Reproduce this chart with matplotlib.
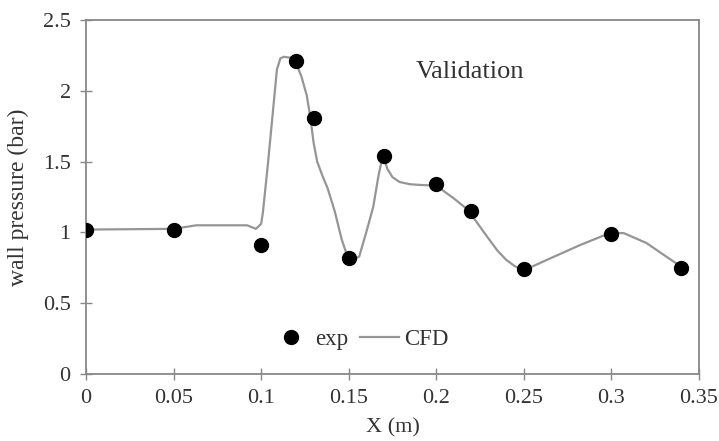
"""
Wall pressure validation: experiment vs CFD
"""

import matplotlib

matplotlib.use("Agg")

import matplotlib.pyplot as plt


EXP_X = [0.0, 0.05, 0.10, 0.12, 0.13, 0.15, 0.17, 0.20, 0.22, 0.25, 0.30, 0.34]
EXP_P = [1.02, 1.02, 0.91, 2.21, 1.81, 0.82, 1.54, 1.34, 1.15, 0.74, 0.99, 0.75]

CFD_X = [
    0.000, 0.050, 0.063, 0.092, 0.097, 0.100, 0.101, 0.104, 0.107, 0.109,
    0.111, 0.113, 0.119, 0.123, 0.126, 0.128, 0.130, 0.132, 0.135, 0.138,
    0.142, 0.146, 0.149, 0.152, 0.156, 0.160, 0.164, 0.167, 0.1695, 0.172,
    0.175, 0.179, 0.185, 0.191, 0.200, 0.210, 0.218, 0.229, 0.235, 0.240,
    0.245, 0.249, 0.255, 0.263, 0.282, 0.299, 0.307, 0.320, 0.330, 0.340,
]
CFD_P = [
    1.02, 1.025, 1.05, 1.05, 1.025, 1.06, 1.14, 1.50, 1.89, 2.15,
    2.23, 2.24, 2.23, 2.10, 1.97, 1.82, 1.63, 1.50, 1.40, 1.31,
    1.15, 0.95, 0.84, 0.80, 0.83, 1.00, 1.18, 1.40, 1.55, 1.45,
    1.39, 1.356, 1.34, 1.335, 1.33, 1.24, 1.16, 0.97, 0.87, 0.805,
    0.76, 0.74, 0.76, 0.805, 0.91, 0.995, 0.995, 0.925, 0.84, 0.756,
]

X_TICKS = [0, 0.05, 0.1, 0.15, 0.2, 0.25, 0.3, 0.35]
X_LABELS = ["0", "0.05", "0.1", "0.15", "0.2", "0.25", "0.3", "0.35"]
Y_TICKS = [0, 0.5, 1, 1.5, 2, 2.5]
Y_LABELS = ["0", "0.5", "1", "1.5", "2", "2.5"]


def main():
    plt.rcParams["font.family"] = ["Liberation Serif", "DejaVu Serif"]
    plt.rcParams["font.size"] = 16

    fig = plt.figure(figsize=(7.19, 4.41), dpi=100)
    ax = fig.add_axes([0.1196, 0.152, 0.8526, 0.8026])

    ax.plot(EXP_X, EXP_P, "o", color="black", markersize=10, label="exp",
            zorder=3)
    ax.plot(CFD_X, CFD_P, "-", color="#959595", linewidth=1.6, label="CFD",
            zorder=2)

    ax.set_xlim(0, 0.35)
    ax.set_ylim(0, 2.5)
    ax.set_xticks(X_TICKS)
    ax.set_xticklabels(X_LABELS)
    ax.set_yticks(Y_TICKS)
    ax.set_yticklabels(Y_LABELS)
    ax.tick_params(direction="inout", length=8, width=1, color="#888888",
                   labelcolor="#333333", labelsize=16, pad=7)

    for side in ["left", "bottom", "top", "right"]:
        ax.spines[side].set_color("#888888")
        ax.spines[side].set_linewidth(1.3)

    ax.set_xlabel("X (m)", color="#333333", fontsize=16, labelpad=7)
    ax.set_ylabel("wall pressure (bar)", color="#333333", fontsize=17,
                  labelpad=10)

    ax.text(0.219, 2.13, "Validation", fontsize=19, color="#333333",
            ha="center", va="center")

    ax.legend(loc="center", bbox_to_anchor=(0.447, 0.097), ncol=2,
              frameon=False, handlelength=1.7, handletextpad=0.2,
              columnspacing=0.5, fontsize=16.5, labelcolor="#333333")

    fig.savefig("out.png", dpi=100)
    plt.close(fig)


if __name__ == "__main__":
    main()
